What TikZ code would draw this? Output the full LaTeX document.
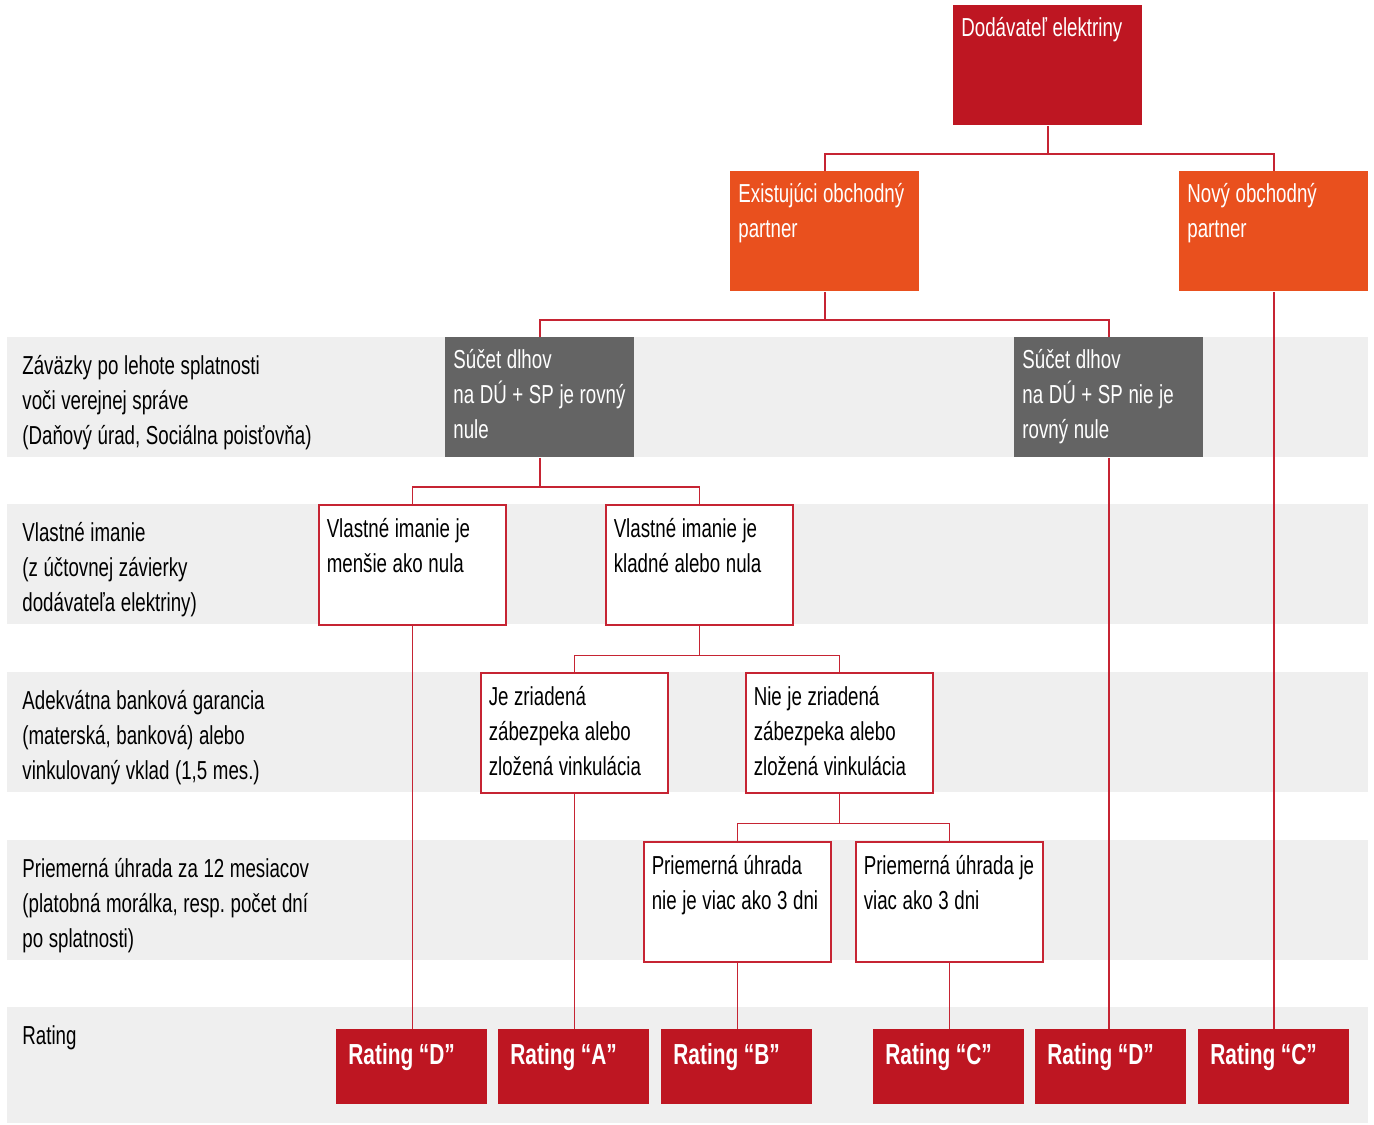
\documentclass[tikz,border=0pt]{standalone}
\usepackage{fontspec}
\setmainfont{Liberation Sans}[FakeStretch=0.72]
\usetikzlibrary{positioning}

\definecolor{elred}{HTML}{BE1622}
\definecolor{elorange}{HTML}{E9501E}
\definecolor{debtgrey}{HTML}{646464}
\definecolor{bandgrey}{HTML}{EFEFEF}
\definecolor{linered}{HTML}{C62433}

\newcommand\boxfont{\fontsize{13pt}{17.5pt}\selectfont}
\newcommand\ratfont{\fontsize{14.5pt}{17.5pt}\selectfont\bfseries}

\tikzset{
  every node/.style={execute at begin node={\spaceskip=2.8pt plus 0.4pt\xspaceskip=\spaceskip}},
  band/.style={fill=bandgrey, anchor=north west, minimum width=680.5pt,
    minimum height=60pt, inner sep=0pt},
  rowlbl/.style={anchor=base west, align=left, text width=170pt,
    inner sep=0pt, font=\boxfont},
  colbox/.style={anchor=north west, inner xsep=4pt, inner ysep=0pt,
    text width=86.5pt, text height=15.5pt, text depth=44.5pt,
    align=left, font=\boxfont, text=white},
  topbox/.style={colbox, fill=elred},
  partner/.style={colbox, fill=elorange},
  debt/.style={colbox, fill=debtgrey},
  crit/.style={anchor=north west, inner xsep=4pt, inner ysep=0pt,
    text width=85.5pt, text height=16.5pt, text depth=43.5pt,
    align=left, font=\boxfont, fill=white, draw=linered, line width=0.75pt},
  rating/.style={anchor=north west, inner xsep=6pt, inner ysep=0pt,
    text width=63.5pt, text height=17.5pt, text depth=20pt,
    align=left, font=\ratfont, fill=elred, text=white},
  link/.style={draw=linered, line width=0.75pt}
}

\begin{document}
\begin{tikzpicture}[x=0.5pt,y=-0.5pt]
\useasboundingbox (0,0) rectangle (1374,1124);

% grey rows
\foreach \y/\n in {337/1,504/2,672/3,840/4}
  \node[band] (band\n) at (7,\y) {};
\node[band, minimum height=58pt] (band5) at (7,1007) {};

% row captions
\node[rowlbl] (lbl1) at (22,374) {Záväzky po lehote splatnosti\\voči verejnej správe\\(Daňový úrad, Sociálna poisťovňa)};
\node[rowlbl] (lbl2) at (22,541) {Vlastné imanie\\(z účtovnej závierky\\dodávateľa elektriny)};
\node[rowlbl] (lbl3) at (22,709) {Adekvátna banková garancia\\(materská, banková) alebo\\vinkulovaný vklad (1,5 mes.)};
\node[rowlbl] (lbl4) at (22,877) {Priemerná úhrada za 12 mesiacov\\(platobná morálka, resp. počet dní\\po splatnosti)};
\node[rowlbl] (lbl5) at (22,1044) {Rating};

% tree boxes
\node[topbox] (dodav) at (953,5) {Dodávateľ elektriny};
\node[partner] (exist) at (730,171) {Existujúci obchodný\\partner};
\node[partner] (novy) at (1179,171) {Nový obchodný\\partner};
\node[debt] (sucetA) at (445,337) {Súčet dlhov\\\mbox{na DÚ + SP je rovný}\\nule};
\node[debt] (sucetB) at (1014,337) {Súčet dlhov\\na DÚ + SP nie je\\rovný nule};
\node[crit] (imMinus) at (318,504) {Vlastné imanie je\\menšie ako nula};
\node[crit] (imPlus) at (605,504) {Vlastné imanie je\\kladné alebo nula};
\node[crit] (zabJe) at (480,672) {Je zriadená\\zábezpeka alebo\\zložená vinkulácia};
\node[crit] (zabNie) at (745,672) {Nie je zriadená\\zábezpeka alebo\\zložená vinkulácia};
\node[crit] (uhrNie) at (643,841) {Priemerná úhrada\\\mbox{nie je viac ako 3 dni}};
\node[crit] (uhrJe) at (855,841) {\mbox{Priemerná úhrada je}\\viac ako 3 dni};

% ratings
\foreach \x/\n/\r in {336/1/D,498/2/A,661/3/B,873/4/C,1035/5/D,1198/6/C}
  \node[rating] (rat\n) at (\x,1029) {Rating “\r”};

% branches
\draw[link] (dodav.south) -- ++(0,28) coordinate (j1);
\draw[link] (exist.north) |- (j1) -| (novy.north);
\draw[link] (exist.south) -- ++(0,28) coordinate (j2);
\draw[link] (sucetA.north) |- (j2) -| (sucetB.north);
\draw[link] (sucetA.south) -- ++(0,29) coordinate (j3);
\draw[link] (imMinus.north) |- (j3) -| (imPlus.north);
\draw[link] (imPlus.south) -- ++(0,30) coordinate (j4);
\draw[link] (zabJe.north) |- (j4) -| (zabNie.north);
\draw[link] (zabNie.south) -- ++(0,30) coordinate (j5);
\draw[link] (uhrNie.north) |- (j5) -| (uhrJe.north);

% down to the ratings
\draw[link] (imMinus.south) -- (imMinus.south |- rat1.north);
\draw[link] (zabJe.south) -- (zabJe.south |- rat2.north);
\draw[link] (uhrNie.south) -- (uhrNie.south |- rat3.north);
\draw[link] (uhrJe.south) -- (uhrJe.south |- rat4.north);
\draw[link] (sucetB.south) -- (sucetB.south |- rat5.north);
\draw[link] (novy.south) -- (novy.south |- rat6.north);
\end{tikzpicture}
\end{document}
